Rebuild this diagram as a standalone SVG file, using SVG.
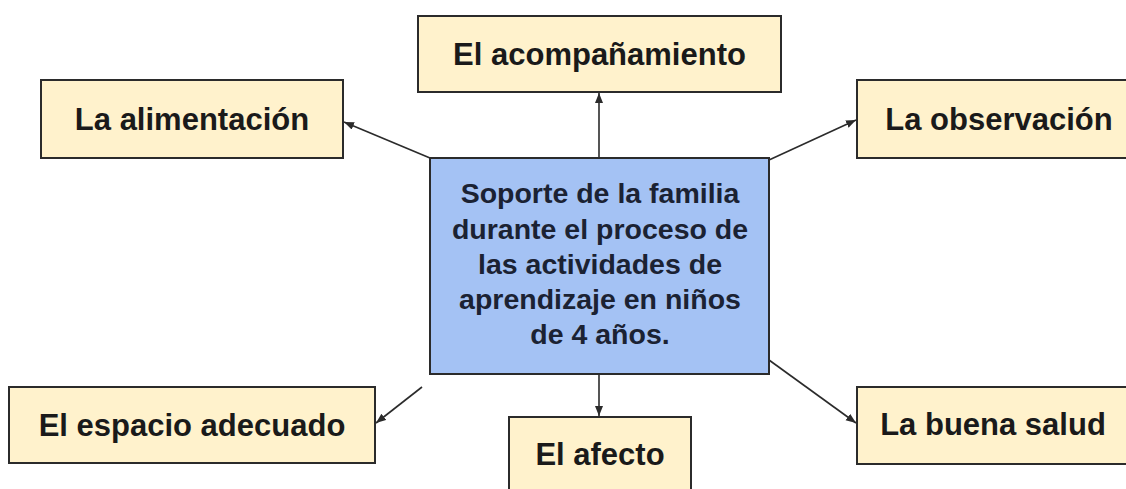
<svg xmlns="http://www.w3.org/2000/svg" width="1126" height="489" viewBox="0 0 1126 489">
<style>
.leaf{fill:#fff2cc;stroke:#2b2b2b;stroke-width:2}
.core{fill:#a4c2f4;stroke:#2b2b2b;stroke-width:2}
.t{font-family:"Liberation Sans",Arial,sans-serif;font-weight:bold;font-size:31px;fill:#1a1a1a;text-anchor:middle}
.ct{font-family:"Liberation Sans",Arial,sans-serif;font-weight:bold;font-size:28.5px;fill:#1b2233;text-anchor:middle}
.c{stroke:#2b2b2b;stroke-width:1.6;fill:none;marker-end:url(#ah)}
</style>
<defs>
<marker id="ah" markerUnits="userSpaceOnUse" markerWidth="12" markerHeight="10" refX="10" refY="4" orient="auto">
<path d="M0,0 L10,4 L0,8 Z" fill="#2b2b2b"/>
</marker>
</defs>
<rect width="1126" height="489" fill="#ffffff"/>
<g id="connectors">
<line class="c" x1="599" y1="157" x2="599" y2="93"/>
<line class="c" x1="430" y1="158" x2="344" y2="122"/>
<line class="c" x1="769" y1="160" x2="856" y2="120"/>
<line class="c" x1="422" y1="387" x2="376" y2="423"/>
<line class="c" x1="599" y1="375" x2="599" y2="416"/>
<line class="c" x1="769" y1="360" x2="856" y2="423"/>
</g>
<g id="center">
<rect class="core" x="430" y="158" width="339" height="216"/>
<text class="ct" x="600" y="203">Soporte de la familia</text>
<text class="ct" x="600" y="239">durante el proceso de</text>
<text class="ct" x="600" y="274">las actividades de</text>
<text class="ct" x="600" y="309">aprendizaje en niños</text>
<text class="ct" x="600" y="344">de 4 años.</text>
</g>
<g id="acompanamiento">
<rect class="leaf" x="418" y="16" width="363" height="76"/>
<text class="t" x="599.5" y="65">El acompañamiento</text>
</g>
<g id="alimentacion">
<rect class="leaf" x="41" y="80" width="302" height="78"/>
<text class="t" x="192" y="130">La alimentación</text>
</g>
<g id="observacion">
<rect class="leaf" x="857" y="80" width="285" height="78"/>
<text class="t" x="999" y="130">La observación</text>
</g>
<g id="espacio">
<rect class="leaf" x="9" y="387" width="366" height="76"/>
<text class="t" x="192" y="436">El espacio adecuado</text>
</g>
<g id="afecto">
<rect class="leaf" x="509" y="417" width="182" height="90"/>
<text class="t" x="600" y="465">El afecto</text>
</g>
<g id="buenasalud">
<rect class="leaf" x="857" y="387" width="275" height="77"/>
<text class="t" x="993" y="435">La buena salud</text>
</g>
</svg>
